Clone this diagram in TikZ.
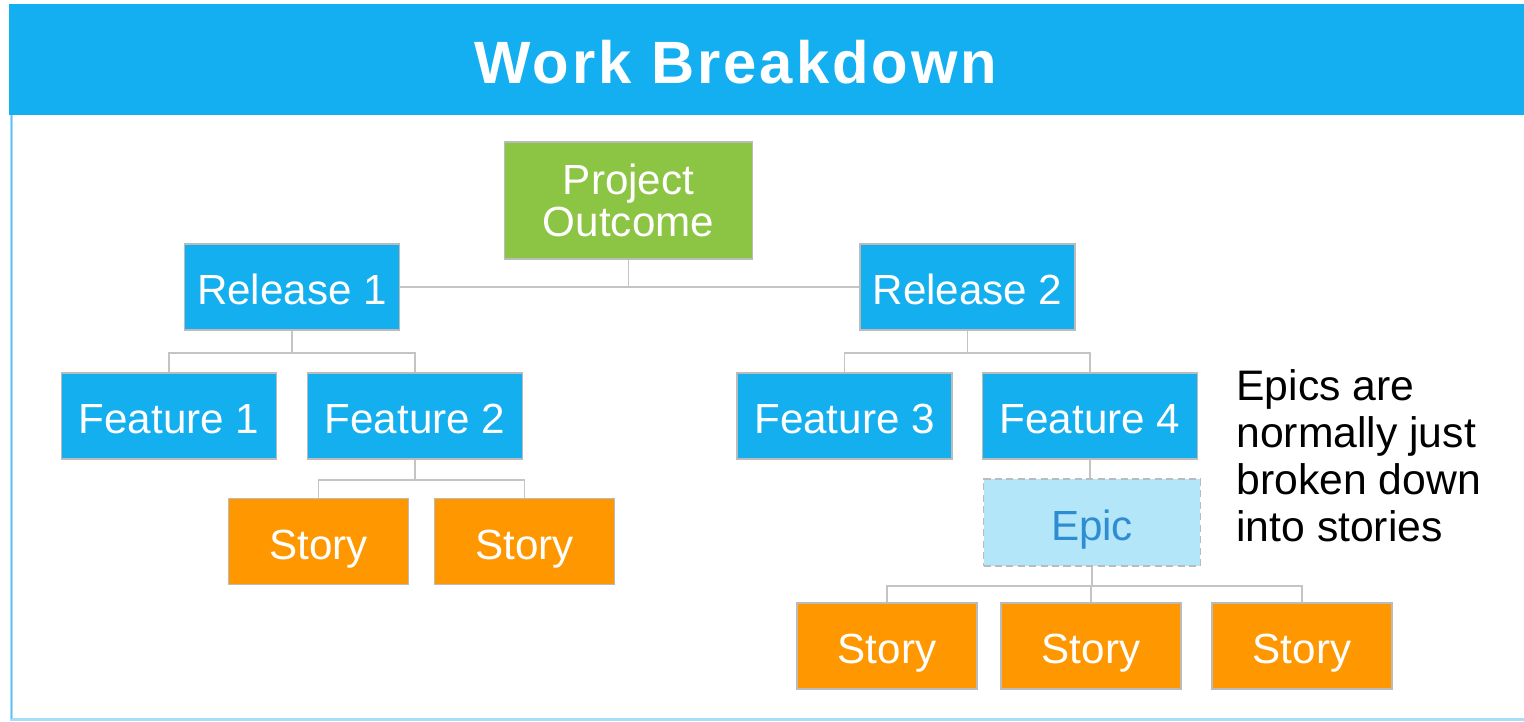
\documentclass[tikz,border=0pt]{standalone}
\usepackage{fontspec}
\setmainfont{Liberation Sans}
\definecolor{titleblue}{HTML}{14AFF0}
\definecolor{nodeblue}{HTML}{14AFEF}
\definecolor{outgreen}{HTML}{8CC443}
\definecolor{storyorange}{HTML}{FF9800}
\definecolor{epicfill}{HTML}{B2E6F8}
\definecolor{epictext}{HTML}{2E8CD2}
\definecolor{boxgray}{HTML}{BBBBBB}
\definecolor{linegray}{HTML}{C4C4C4}
\definecolor{frameblue}{HTML}{5CC4F2}
\definecolor{framelight}{HTML}{A6DDF8}
\begin{document}
\begin{tikzpicture}[x=0.02cm,y=-0.02cm,
  box/.style={draw=boxgray, line width=0.9pt, minimum width=4.3cm, minimum height=1.72cm,
    inner sep=0pt, text=white, font=\fontsize{24}{24}\selectfont, align=center},
  oneline/.style={text height=20pt, text depth=0pt},
  bluebox/.style={box, oneline, fill=nodeblue},
  greenbox/.style={box, fill=outgreen, minimum width=4.96cm, minimum height=2.34cm},
  storybox/.style={box, oneline, fill=storyorange, minimum width=3.6cm},
  epicbox/.style={box, oneline, fill=epicfill, text=epictext, dash pattern=on 4pt off 2.5pt, minimum width=4.34cm, minimum height=1.74cm},
  conn/.style={draw=linegray, line width=1.1pt}
]
\useasboundingbox (0,0) rectangle (1524,721);
% frame
\fill[titleblue] (9,4) rectangle (1524,115);
\draw[framelight, line width=1.6pt] (1524,719.5) -- (11.5,719.5) -- (11.5,115);
\draw[frameblue, line width=0.8pt] (11.5,719) -- (11.5,115);
\node[text=white, font=\fontsize{34}{34}\selectfont\bfseries\addfontfeature{LetterSpace=5}] (title) at (736,62) {Work Breakdown};

% nodes
\node[greenbox] (po) at (628.5,200.5) {Project\\Outcome};
\node[bluebox] (r1) at (292,287) {Release 1};
\node[bluebox] (r2) at (967.5,287) {Release 2};
\node[bluebox] (f1) at (169,416) {Feature 1};
\node[bluebox] (f2) at (415,416) {Feature 2};
\node[bluebox] (f3) at (844.5,416) {Feature 3};
\node[bluebox] (f4) at (1090,416) {Feature 4};
\node[storybox] (s1) at (318.5,541.5) {Story};
\node[storybox] (s2) at (524.5,541.5) {Story};
\node[epicbox] (epic) at (1092,522.5) {Epic};
\node[storybox] (s3) at (887,646) {Story};
\node[storybox] (s4) at (1091,646) {Story};
\node[storybox] (s5) at (1302,646) {Story};

\node[anchor=north west, inner sep=0pt, align=left, font=\fontsize{24.3}{26.8}\selectfont] (note) at (1236,369)
  {Epics are\\normally just\\broken down\\into stories};

% connectors
\draw[conn] (po.south) |- (r1.east);
\draw[conn] (po.south) |- (r2.west);
\draw[conn] (r1.south) -- ++(0,22) -| (f1.north);
\draw[conn] (r1.south) -- ++(0,22) -| (f2.north);
\draw[conn] (r2.south) -- ++(0,22) -| (f3.north);
\draw[conn] (r2.south) -- ++(0,22) -| (f4.north);
\draw[conn] (f2.south) -- ++(0,20) -| (s1.north);
\draw[conn] (f2.south) -- ++(0,20) -| (s2.north);
\draw[conn] (f4.south) -- (f4.south |- epic.north);
\draw[conn] (epic.south) -- ++(0,19) -| (s3.north);
\draw[conn] (epic.south) -- ++(0,19) -| (s4.north);
\draw[conn] (epic.south) -- ++(0,19) -| (s5.north);
\end{tikzpicture}
\end{document}
